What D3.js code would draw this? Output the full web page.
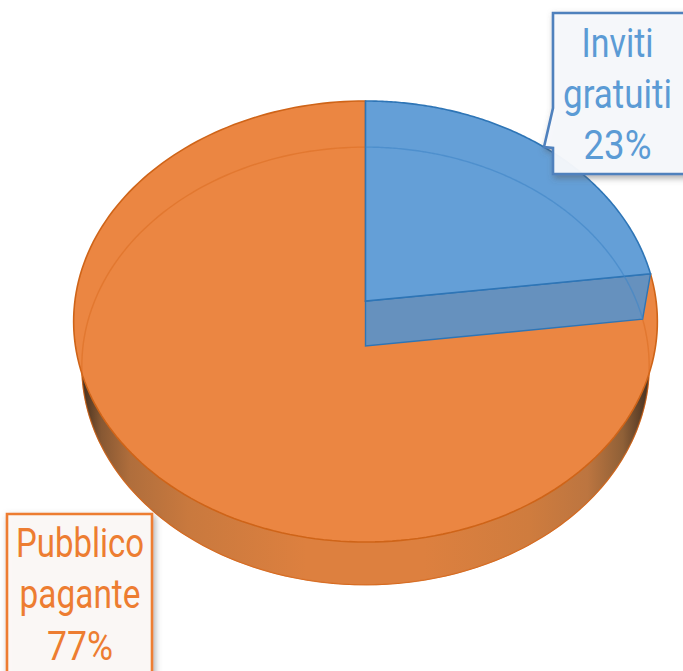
<!DOCTYPE html>
<html><head><meta charset="utf-8">
<style>html,body{margin:0;padding:0;background:#fff;overflow:hidden}svg{display:block}</style>
<script src="https://cdn.jsdelivr.net/npm/d3@7"></script></head>
<body><svg id="c" width="683" height="671"></svg>
<script>
const categories = ["Inviti gratuiti", "Pubblico pagante"];
const values = [23, 77];
const percentLabels = ["23%", "77%"];
const labelLines = [["Inviti", "gratuiti", "23%"], ["Pubblico", "pagante", "77%"]];

const svg = d3.select("#c");
const defs = svg.append("defs");
const pie = d3.pie().sort(null)(values);

// perspective projection of the pie's top and bottom discs
const rim = (cy, R, H, k) => a => {
  const u = Math.sin(a), v = -Math.cos(a), w = 1 - k * v;
  return [365.5 + R * u / w, cy + H * v / w];
};
const topP = rim(301, 290.6, 218.6, 0.093);
const botP = rim(346, 282.5, 217, 0.091);
const samples = (a0, a1) => d3.range(0, 181).map(i => a0 + (a1 - a0) * i / 180);
const line = d3.line();
const wedge = (p, s) => line([[365.5, p === topP ? 301 : 346], ...samples(s.startAngle, s.endAngle).map(p)]) + "Z";

const shadow = defs.append("filter").attr("id", "sh").attr("x", "-20%").attr("y", "-20%").attr("width", "150%").attr("height", "150%");
shadow.append("feDropShadow").attr("dx", 2).attr("dy", 3).attr("stdDeviation", 3).attr("flood-color", "#555").attr("flood-opacity", 0.5);

const g = defs.append("linearGradient").attr("id", "side").attr("gradientUnits", "userSpaceOnUse")
  .attr("x1", 72).attr("x2", 658).attr("y1", 0).attr("y2", 0);
[[0, "#2f2318"], [0.02, "#4a3320"], [0.05, "#875833"], [0.1, "#b06e3c"], [0.2, "#c9793e"], [0.4, "#dd803f"], [0.6, "#dd803f"], [0.78, "#cf7c3e"], [0.88, "#bc7540"], [0.94, "#8f6037"], [0.97, "#5e4028"], [1, "#2f2318"]]
  .forEach(d => g.append("stop").attr("offset", d[0]).attr("stop-color", d[1]));

const blue = pie[0], orange = pie[1];
const orangeLine = "#CF6418", blueLine = "#2E75B6";

// side wall: bottom rim under the top face
svg.append("path").attr("d", line(samples(Math.PI / 2, 3 * Math.PI / 2).map(botP)) + "Z")
  .attr("fill", "url(#side)").attr("stroke", orangeLine).attr("stroke-width", 1.2);
const sideTop = samples(Math.PI / 2, 3 * Math.PI / 2).map(topP);
const sideBot = samples(3 * Math.PI / 2, Math.PI / 2).map(botP);
svg.append("path").attr("d", line([...sideTop, ...sideBot]) + "Z").attr("fill", "url(#side)");

// top face, orange slice
svg.append("path").attr("d", wedge(topP, orange)).attr("fill", "#EB8642").attr("stroke", orangeLine).attr("stroke-width", 1.6);
svg.append("path").attr("d", line(samples(blue.endAngle, 2 * Math.PI).map(botP)))
  .attr("fill", "none").attr("stroke", "#D9691E").attr("stroke-opacity", 0.5).attr("stroke-width", 1.4);

// blue slice's wall along its end angle
const e = blue.endAngle;
svg.append("path").attr("d", line([[365.5, 301], topP(e), botP(e), [365.5, 346]]) + "Z")
  .attr("fill", "#6691BE").attr("stroke", blueLine).attr("stroke-width", 1.4);

// blue slice's top face
svg.append("path").attr("d", wedge(topP, blue)).attr("fill", "#649FD7").attr("stroke", blueLine).attr("stroke-width", 1.6);
svg.append("path").attr("d", line(samples(0, e).map(botP)))
  .attr("fill", "none").attr("stroke", "#3F86C6").attr("stroke-opacity", 0.6).attr("stroke-width", 1.4);

// callouts
const boxes = [
  { d: "M553,13H690V174H553V148L544,147L553,108Z", stroke: "#4F81BD", fill: "#F8FAFD", text: "#5B9BD5", cx: 617.5, base: [57, 108, 159] },
  { d: "M7,514H152V685H7Z", stroke: "#ED7D31", fill: "#FDFAF8", text: "#ED7D31", cx: 80, base: [557, 608, 660] }
];
const widths = [[72, 109, 68], [128, 121, 66]];
boxes.forEach((b, i) => {
  svg.append("path").attr("d", b.d).attr("fill", b.fill).attr("fill-opacity", 0.94)
    .attr("stroke", b.stroke).attr("stroke-width", 2.6).attr("filter", "url(#sh)");
  labelLines[i].forEach((t, j) => {
    const el = svg.append("text").attr("text-anchor", "middle")
      .attr("font-family", "Roboto, sans-serif").attr("font-size", 41).attr("font-weight", 400)
      .attr("fill", b.text).text(t);
    const sx = widths[i][j] / el.node().getComputedTextLength();
    el.attr("transform", `translate(${b.cx},${b.base[j]}) scale(${sx},1)`);
  });
});
</script></body></html>
